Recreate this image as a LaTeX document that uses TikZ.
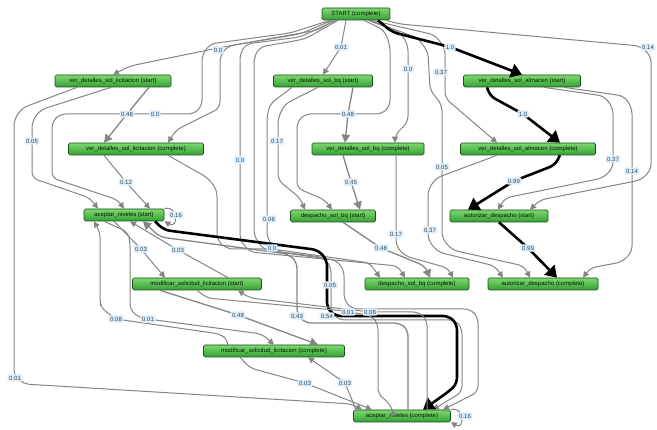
\documentclass[tikz,border=0pt]{standalone}
\usepackage{fontspec}
\newfontfamily\lbf{Liberation Sans}
\usetikzlibrary{arrows.meta}
\definecolor{ntop}{HTML}{7FD870}
\definecolor{nbot}{HTML}{34A034}
\definecolor{ndraw}{HTML}{1A4F1A}
\definecolor{egray}{HTML}{858585}
\definecolor{lfill}{HTML}{DEEDF7}
\definecolor{ltext}{HTML}{2E4A5E}
\tikzset{
  act/.style={draw=ndraw, line width=0.7pt, rounded corners=1.5pt, top color=ntop, bottom color=nbot,
    minimum height=12pt, inner sep=1pt, font=\lbf\fontsize{6}{7}\selectfont, text=black!90!green},
  e/.style={draw=egray, line width=1pt, rounded corners=6pt, -{Triangle[length=6pt,width=6pt]}},
  eh/.style={draw=egray, line width=1.3pt, rounded corners=6pt, -{Triangle[length=8pt,width=8.5pt]}},
  eb/.style={draw=black, line width=2.6pt, rounded corners=6pt, -{Triangle[length=11pt,width=14pt]}},
  lbl/.style={fill=lfill, text=ltext, font=\lbf\fontsize{6}{7}\selectfont, inner sep=1.5pt, rounded corners=1pt}
}
\begin{document}
\begin{tikzpicture}[x=1pt,y=-1pt]
\useasboundingbox[fill=white] (0,0) rectangle (657,430);
% nodes
\node[act, minimum width=68pt]  (S)   at (356,14)  {START (complete)};
\node[act, minimum width=116pt] (A1)  at (113,81)  {ver\_detalles\_sol\_licitacion (start)};
\node[act, minimum width=99pt]  (B1)  at (323,81)  {ver\_detalles\_sol\_bq (start)};
\node[act, minimum width=117pt] (C1)  at (522,81)  {ver\_detalles\_sol\_almacen (start)};
\node[act, minimum width=135pt] (A2)  at (136,149) {ver\_detalles\_sol\_licitacion (complete)};
\node[act, minimum width=112pt] (B2)  at (368,149) {ver\_detalles\_sol\_bq (complete)};
\node[act, minimum width=135pt] (C2)  at (528,149) {ver\_detalles\_sol\_almacen (complete)};
\node[act, minimum width=80pt]  (AN1) at (124,215) {aceptar\_niveles (start)};
\node[act, minimum width=85pt]  (D1)  at (333,216) {despacho\_sol\_bq (start)};
\node[act, minimum width=98pt]  (Z1)  at (499,216) {autorizar\_despacho (start)};
\node[act, minimum width=129pt] (M1)  at (197,284) {modificar\_solicitud\_licitacion (start)};
\node[act, minimum width=104pt] (D2)  at (417,284) {despacho\_sol\_bq (complete)};
\node[act, minimum width=110pt] (Z2)  at (543,284) {autorizar\_despacho (complete)};
\node[act, minimum width=141pt] (M2)  at (274,351) {modificar\_solicitud\_licitacion (complete)};
\node[act, minimum width=97pt]  (AN2) at (402,416) {aceptar\_niveles (complete)};

% edges from START
\draw[e] ([xshift=-22pt]S.south) -- (318,30) -- (218,48) -- (130,66) -- (A1.north);
\draw[e] ([xshift=-24pt]S.south) -- (300,34) -- (228,46) -- (220,56) -- (220,108) -- (176,130) -- ([xshift=32pt]A2.north);
\draw[e] ([xshift=-26pt]S.south) -- (290,33) -- (210,44) -- (202,55) -- (202,106) -- (194,114) -- (60,114) -- (52,122) -- (52,178) -- (118,200) -- (AN1.north);
\draw[e] ([xshift=-20pt]S.south) -- (300,37) -- (246,44) -- (240,54) -- (240,240) -- (250,252) -- (398,266) -- ([xshift=-12pt]D2.north);
\draw[e] ([xshift=-18pt]S.south) -- (305,39) -- (260,47) -- (254,57) -- (254,236) -- (264,250) -- (322,257) -- (331,266) -- (331,312) -- (339,320) -- (455,320) -- (462,328) -- (462,392) -- ([xshift=31pt]AN2.north);
\draw[e] ([xshift=-10pt]S.south) -- (341,47) -- (B1.north);
\draw[e] ([xshift=8pt]S.south) -- (384,30) -- (390,45) -- (390,106) -- (382,114) -- (305,114) -- (297,122) -- (297,188) -- (325,200) -- ([xshift=-1pt]D1.north);
\draw[e] ([xshift=12pt]S.south) -- (400,32) -- (408,45) -- (408,122) -- (395,135) -- ([xshift=27pt]B2.north);
\draw[e] ([xshift=16pt]S.south) -- (435,35) -- (445,48) -- (445,98) -- ([xshift=-31pt]C2.north);
\draw[e] ([xshift=14pt]S.south) -- (418,38) -- (428,52) -- (430,90) -- (442,105) -- (442,238) -- (452,250) -- (524,266) -- ([xshift=-13pt]Z2.north);
\draw[eb] ([xshift=22pt]S.south) -- (392,32) -- (450,47) -- (C1.north);
\draw[e] ([xshift=30pt]S.south) -- (400,24) -- (640,46) -- (651,56) -- (651,170) -- (641,180) -- (540,200) -- ([xshift=31pt]Z1.north);

% B1
\draw[eh] ([xshift=30pt]B1.south) -- (348,114) -- ([xshift=-23pt]B2.north);
\draw[e] ([xshift=-5pt]B1.south) -- (285,104) -- (278,118) -- (278,180) -- (300,198) -- ([xshift=-28pt]D1.north);
\draw[e] ([xshift=-31pt]B1.south) -- (270,104) -- (267,116) -- (267,238) -- (278,252) -- (336,260) -- (344,270) -- (344,300) -- (352,309) -- (470,309) -- (478,317) -- (478,392) -- ([xshift=41pt]AN2.north);

% A1
\draw[e] ([xshift=-36pt]A1.south) -- (22,108) -- (14,120) -- (14,376) -- (24,384) -- (352,404) -- ([xshift=-40pt]AN2.north);
\draw[e] ([xshift=-2pt]A1.south) -- (40,110) -- (32,122) -- (32,178) -- (90,198) -- ([xshift=-26pt]AN1.north);
\draw[eh] ([xshift=36pt]A1.south) -- (127,114) -- ([xshift=-32pt]A2.north);

% A2
\draw[e] ([xshift=-32pt]A2.south) -- (126,182) -- ([xshift=26pt]AN1.north);
\draw[e] ([xshift=32pt]A2.south) -- (208,178) -- (217,190) -- (217,240) -- (227,249) -- (272,249) -- (370,263) -- ([xshift=-37pt]D2.north);

% B2
\draw[eh] ([xshift=-25pt]B2.south) -- (351,182) -- ([xshift=27pt]D1.north);
\draw[e] ([xshift=28pt]B2.south) -- (396,246) -- (405,256) -- (448,268) -- ([xshift=36pt]D2.north);

% C1
\draw[eb] ([xshift=-35pt]C1.south) -- (490,96) -- (523,114) -- ([xshift=32pt]C2.north);
\draw[e] ([xshift=22pt]C1.south) -- (604,96) -- (613,108) -- (613,168) -- (603,178) -- (505,198) -- ([xshift=-1pt]Z1.north);
\draw[e] ([xshift=42pt]C1.south) -- (624,96) -- (632,108) -- (632,252) -- (622,262) -- (590,268) -- ([xshift=40pt]Z2.north);

% C2
\draw[eb] ([xshift=32pt]C2.south) -- (555,165) -- (514,181) -- ([xshift=-31pt]Z1.north);
\draw[e] ([xshift=-31pt]C2.south) -- (436,178) -- (428,190) -- (428,240) -- (438,252) -- (495,266) -- ([xshift=-40pt]Z2.north);

% D1, Z1
\draw[eh] ([xshift=10pt]D1.south) -- (381,248) -- (425,266) -- ([xshift=13pt]D2.north);
\draw[eb] (Z1.south) -- (528,248) -- ([xshift=14pt]Z2.north);

% aceptar / modificar
\draw[e] ([xshift=-10pt]AN1.south) -- (141,249) -- ([xshift=-32pt]M1.north);
\draw[e] ([xshift=31pt]M1.north) -- (178,250) -- ([xshift=6pt]AN1.south);
\draw[e] ([xshift=-20pt]AN1.south) -- (128,232) -- (130,242) -- (130,310) -- (140,318) -- (262,334) -- (M2.north);
\draw[e] ([xshift=-46pt]M2.north) -- (228,340) -- (220,334) -- (116,319) -- (101,308) -- (100,300) -- (100,232) -- ([xshift=-30pt]AN1.south);
\draw[eb] ([xshift=31pt]AN1.south) -- (164,230) -- (318,250) -- (327,260) -- (327,308) -- (335,316) -- (449,316) -- (457,324) -- (457,384) -- (448,392) -- ([xshift=21pt]AN2.north);
\draw[eh] ([xshift=6pt]AN2.north) -- (408,330) -- (400,323) -- (305,323) -- (297,314) -- (297,262) -- (288,254) -- (160,237) -- ([xshift=19pt]AN1.south);
\draw[e] ([xshift=25pt]AN2.north) -- (427,320) -- (419,312) -- (370,312) -- (250,298) -- ([xshift=41pt]M1.south);
\draw[e] (M1.south) -- (207,298) -- (345,311) -- (372,316) -- (378,324) -- (378,394) -- (390,404) -- ([xshift=-10pt]AN2.north);
\draw[eh] ([xshift=-37pt]M1.south) -- (238,315) -- ([xshift=44pt]M2.north);
\draw[e] ([xshift=-34pt]M2.south) -- (250,368) -- (305,383) -- ([xshift=-30pt]AN2.north);
\draw[e] ([xshift=-46pt]AN2.north) -- (345,383) -- ([xshift=34pt]M2.south);
\draw[e, rounded corners=0pt] (AN1.north east) .. controls +(14,-4) and +(14,8) .. (AN1.south east);
\draw[e, rounded corners=0pt] (AN2.north east) .. controls +(14,-4) and +(14,8) .. (AN2.south east);

% labels
\node[lbl] (l1) at (218,50) {0.0};
\node[lbl] (l2) at (341,47) {0.01};
\node[lbl] (l3) at (450,47) {1.0};
\node[lbl] (l4) at (648,47) {0.14};
\node[lbl] (l5) at (441,72) {0.37};
\node[lbl] (l6) at (408,69) {0.0};
\node[lbl] (l7) at (127,114) {0.48};
\node[lbl] (l8) at (155,114) {0.0};
\node[lbl] (l9) at (32,141) {0.05};
\node[lbl] (l10) at (348,114) {0.48};
\node[lbl] (l11) at (523,114) {1.0};
\node[lbl] (l12) at (277,141) {0.17};
\node[lbl] (l13) at (240,160) {0.0};
\node[lbl] (l14) at (613,159) {0.37};
\node[lbl] (l15) at (632,171) {0.14};
\node[lbl] (l16) at (126,182) {0.12};
\node[lbl] (l17) at (351,182) {0.45};
\node[lbl] (l18) at (514,181) {0.99};
\node[lbl] (l19) at (442,167) {0.05};
\node[lbl] (l20) at (176,215) {0.16};
\node[lbl] (l21) at (269,219) {0.06};
\node[lbl] (l22) at (430,230) {0.37};
\node[lbl] (l23) at (396,234) {0.17};
\node[lbl] (l24) at (381,248) {0.48};
\node[lbl] (l25) at (528,248) {0.99};
\node[lbl] (l26) at (141,249) {0.03};
\node[lbl] (l27) at (178,250) {0.03};
\node[lbl] (l28) at (272,248) {0.0};
\node[lbl] (l29) at (330,285) {0.05};
\node[lbl] (l30) at (348,312) {0.01};
\node[lbl] (l31) at (297,316) {0.43};
\node[lbl] (l32) at (327,316) {0.54};
\node[lbl] (l33) at (370,312) {0.08};
\node[lbl] (l34) at (116,319) {0.08};
\node[lbl] (l35) at (148,319) {0.01};
\node[lbl] (l36) at (238,315) {0.48};
\node[lbl] (l37) at (305,383) {0.03};
\node[lbl] (l38) at (345,383) {0.03};
\node[lbl] (l39) at (15,378) {0.01};
\node[lbl] (l40) at (465,416) {0.16};
\end{tikzpicture}
\end{document}
